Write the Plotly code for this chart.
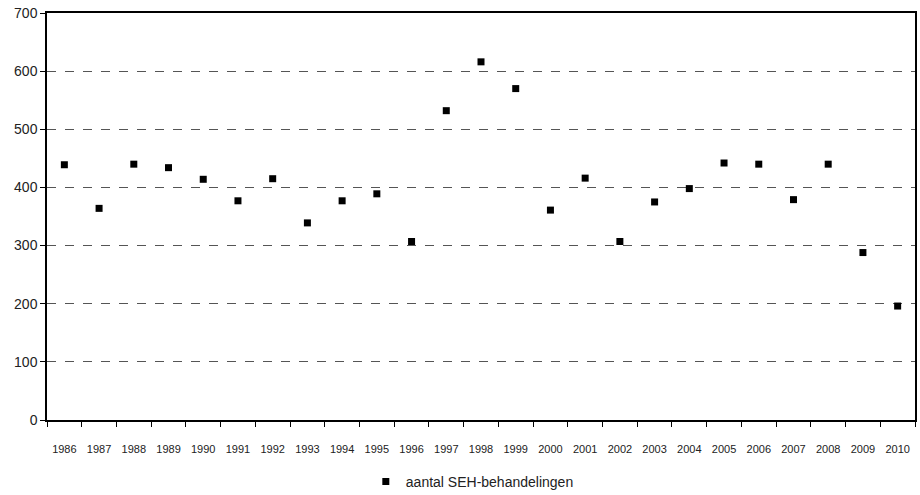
import plotly.graph_objects as go

years = [str(y) for y in range(1986, 2011)]
values = [439, 364, 440, 434, 414, 377, 415, 339, 377, 389, 307, 532, 616, 570,
          361, 416, 307, 375, 398, 442, 440, 379, 440, 288, 196]
y_ticks = [0, 100, 200, 300, 400, 500, 600, 700]
series_name = "aantal SEH-behandelingen"

font_family = "Liberation Sans, Arial, sans-serif"

fig = go.Figure()
fig.add_trace(go.Scatter(
    x=years, y=values, mode="markers", name=series_name,
    marker=dict(symbol="square", size=7, color="black"),
    showlegend=True,
))

fig.update_layout(
    width=920, height=495,
    margin=dict(l=47, r=5, t=13, b=75, autoexpand=False),
    paper_bgcolor="white", plot_bgcolor="white",
    font=dict(family=font_family, color="#222"),
    showlegend=True,
    legend=dict(orientation="h", x=0.49, xanchor="center", y=-0.152, yanchor="middle",
                font=dict(size=14, color="#222"), itemsizing="trace", itemwidth=30),
    xaxis=dict(
        type="category", range=[-0.5, 24.5], tickson="boundaries", automargin=False,
        ticks="outside", ticklen=5, tickcolor="black", tickwidth=1, tickangle=0,
        showline=True, linecolor="black", linewidth=1.5, mirror=True,
        showgrid=False, tickfont=dict(size=11, color="#222"), ticklabelstandoff=18,
    ),
    yaxis=dict(
        range=[0, 700], tickvals=y_ticks, ticks="outside", ticklen=5, automargin=False,
        tickcolor="black", showline=True, linecolor="black", linewidth=1.5,
        mirror=True, showgrid=True, gridcolor="#555", griddash="dash",
        gridwidth=1, zeroline=False, tickfont=dict(size=14, color="#222"),
    ),
)

fig.write_html("out.html", config={"displayModeBar": False},
               post_script="document.body.style.margin='0';document.body.style.overflow='hidden';")
